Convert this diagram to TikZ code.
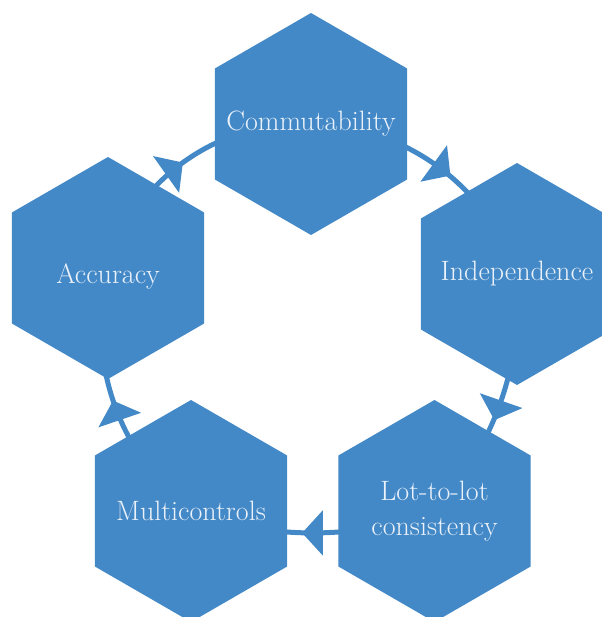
\documentclass[tikz,border=0pt]{standalone}
\usepackage{fontspec}
\usetikzlibrary{shapes.geometric,arrows.meta,decorations.markings,backgrounds}
\definecolor{hexblue}{RGB}{68,137,199}
\definecolor{hextext}{RGB}{234,241,249}
\begin{document}
\begin{tikzpicture}[x=0.75pt,y=0.75pt,
   hexa/.style={regular polygon, regular polygon sides=6, shape border rotate=30,
      minimum size=166.5pt, inner sep=0pt, fill=hexblue, text=hextext, align=center,
      font=\fontsize{21}{26}\selectfont\addfontfeature{LetterSpace=5}},
   flow/.style={draw=hexblue, color=hexblue, line width=3.75pt, postaction={decorate},
      decoration={markings, mark=at position 0.5 with
         {\arrow[xshift=#1]{Triangle[width=33pt,length=15.5pt]}}}},
   flow/.default=8pt]

   \useasboundingbox (0,0) rectangle (601,617);

   \node (Commutability) at (311,493) [hexa] {\makebox[0pt]{Commutability}};
   \node (Independence) at (517,343) [hexa] {\makebox[0pt]{Independence}};
   \node (Lot-to-lot) at (434.5,106) [hexa] {\makebox[0pt]{Lot-to-lot}\\\makebox[0pt]{consistency}};
   \node (Multicontrols) at (191,106) [hexa] {\makebox[0pt]{Multicontrols}};
   \node (Accuracy) at (108,349) [hexa] {\raisebox{-6pt}[\height][\depth]{\makebox[0pt]{Accuracy}}};

   \begin{scope}[on background layer]
   \draw [flow=11.75pt] (Commutability.center) to [bend left=35, looseness=0.94] (Independence.center);
   \draw [flow=15pt] (Independence.center) to [bend left=24, looseness=0.89] (Lot-to-lot.center);
   \draw [flow] (Lot-to-lot.center) to [bend left=20.5, looseness=0.88] (Multicontrols.center);
   \draw [flow=1pt] (Multicontrols.center) to [bend left=33, looseness=0.93] (Accuracy.center);
   \draw [flow=-1.75pt] (Accuracy.center) to [bend left=38, looseness=0.95] (Commutability.center);
   \end{scope}

\end{tikzpicture}
\end{document}
